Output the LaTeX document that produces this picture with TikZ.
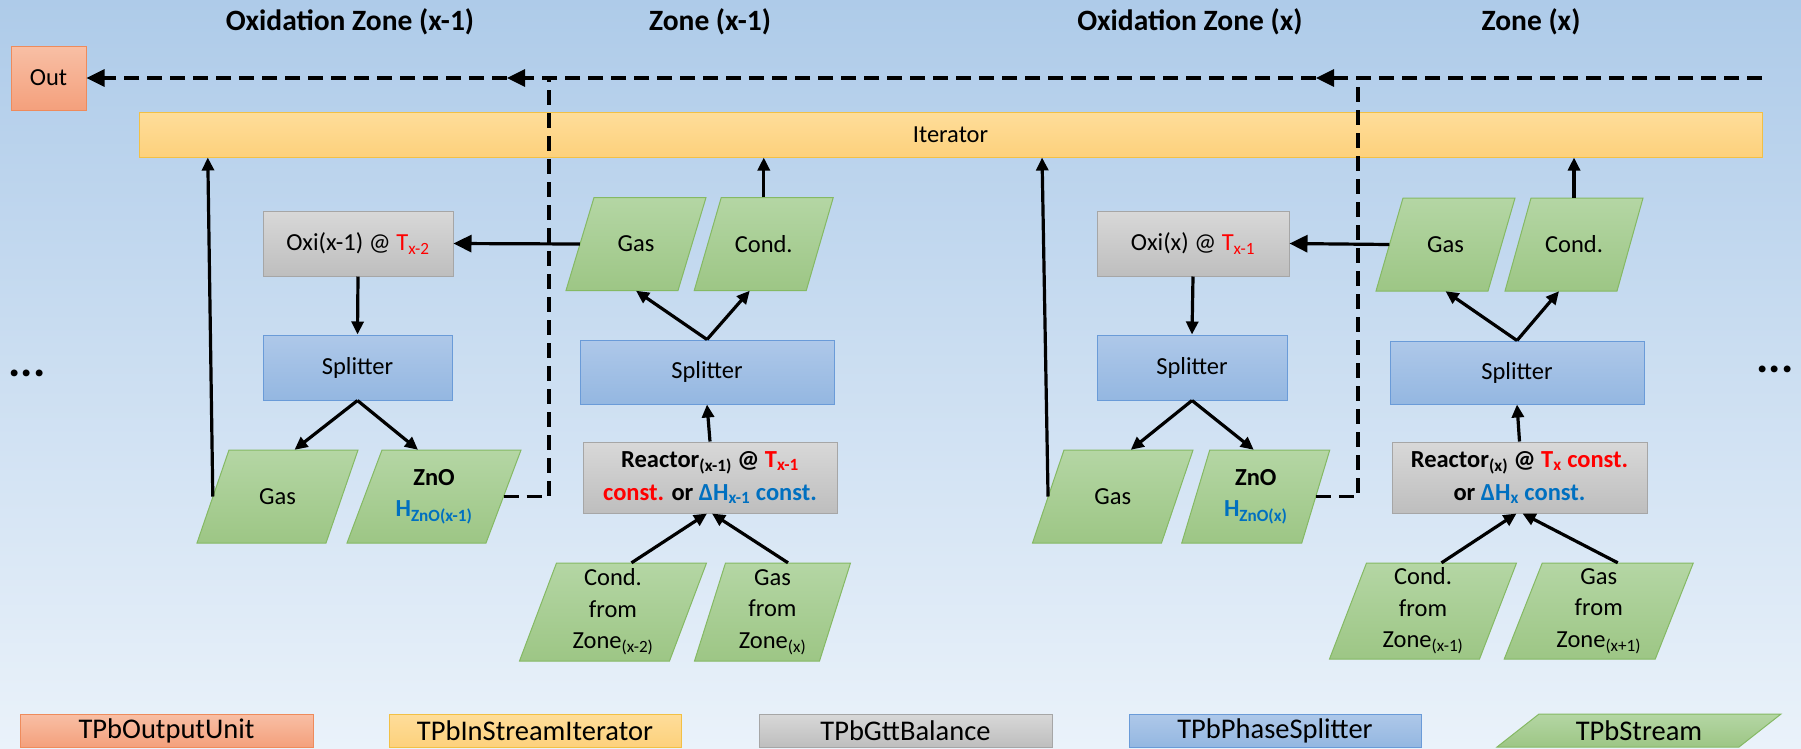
\documentclass[tikz,border=0pt]{standalone}
\usepackage{fontspec}
\setmainfont{Carlito}
\usetikzlibrary{arrows.meta,calc}
\definecolor{bgtop}{HTML}{AECBE9}
\definecolor{bgbot}{HTML}{EAF2FA}
\definecolor{grtop}{HTML}{B4D6A4}
\definecolor{grbot}{HTML}{9DC685}
\definecolor{gredge}{HTML}{85B964}
\definecolor{gytop}{HTML}{D8D8D8}
\definecolor{gybot}{HTML}{BEBEBE}
\definecolor{gyedge}{HTML}{A6A6A6}
\definecolor{bltop}{HTML}{AEC8E9}
\definecolor{blbot}{HTML}{94B7E1}
\definecolor{bledge}{HTML}{6A9BD8}
\definecolor{yetop}{HTML}{FEDD9A}
\definecolor{yebot}{HTML}{FDD17C}
\definecolor{yeedge}{HTML}{F2C045}
\definecolor{ortop}{HTML}{F8BFA5}
\definecolor{orbot}{HTML}{F4A07C}
\definecolor{oredge}{HTML}{EE8B5C}
\definecolor{tred}{HTML}{FF0000}
\definecolor{hblue}{HTML}{0070C0}
\newcommand\fsz[2]{\fontsize{#1pt}{#2pt}\selectfont}
\newcommand\sbs[1]{\textsubscript{#1}}
\tikzset{
  basebox/.style={draw, line width=1pt, inner sep=0pt, align=center, font=\fsz{24.5}{30}},
  graybox/.style={basebox, draw=gyedge, top color=gytop, bottom color=gybot},
  bluebox/.style={basebox, draw=bledge, top color=bltop, bottom color=blbot},
  yellowbox/.style={basebox, draw=yeedge, top color=yetop, bottom color=yebot},
  orangebox/.style={basebox, draw=oredge, top color=ortop, bottom color=orbot},
  streamshape/.style={draw=gredge, line width=1pt, top color=grtop, bottom color=grbot},
  streamtext/.style={inner sep=0pt, align=center, font=\fsz{24.5}{31.5}},
  ztitle/.style={font=\bfseries\fsz{29.5}{35}, inner sep=0pt},
  legtext/.style={font=\fsz{28.5}{34}},
  dots/.style={font=\bfseries\fsz{46}{50}, inner sep=0pt, anchor=base},
  arr/.style={line width=3.2pt, -{Triangle[length=13pt,width=12pt]}},
  bigarr/.style={line width=3.2pt, -{Triangle[length=18pt,width=17pt]}},
  dashline/.style={line width=3.2pt, dash pattern=on 15pt off 8pt},
}
% name, cx, cy, w, h, slant, text
\newcommand\pgram[7]{%
  \path[streamshape] ({#2-#4/2-#6/2},{#3+#5/2}) -- ({#2+#4/2-#6/2},{#3+#5/2}) -- ({#2+#4/2+#6/2},{#3-#5/2}) -- ({#2-#4/2+#6/2},{#3-#5/2}) -- cycle;
  \node[streamtext, minimum width=#4, minimum height=#5] (#1) at (#2,#3) {#7};
}
\begin{document}
\begin{tikzpicture}[x=1pt,y=-1pt]
\useasboundingbox (0,0) rectangle (1801,748);
\path[top color=bgtop, bottom color=bgbot] (0,0) rectangle (1801,748);

% titles
\node[ztitle] (t1) at (350,22) {Oxidation Zone (x-1)};
\node[ztitle] (t2) at (710,22) {Zone (x-1)};
\node[ztitle] (t3) at (1190,22) {Oxidation Zone (x)};
\node[ztitle] (t4) at (1531,22) {Zone (x)};

% out and iterator
\node[orangebox, minimum width=75, minimum height=64] (Out) at (48.5,78) {Out};
\node[yellowbox, minimum width=1623, minimum height=45] (It) at (950.5,134.5) {Iterator};

% dots
\node[dots] (dl) at (27,376) {...};
\node[dots] (dr) at (1775,372) {...};

% ---------- Zone x-1 ----------
\node[graybox, minimum width=190, minimum height=65] (Oxi1) at (358,243.5) {Oxi(x-1) @ \textcolor{tred}{T\sbs{x-2}}};
\node[bluebox, minimum width=189, minimum height=65] (SO1) at (357.5,367.5) {Splitter};
\pgram{G1l}{277.5}{496.5}{129}{93}{32}{Gas}
\pgram{Z1}{434}{496.5}{139}{93}{35}{\textbf{ZnO}\\\textcolor{hblue}{\textbf{H\sbs{ZnO(x-1)}}}}
\pgram{G1u}{636}{244}{112}{93}{28}{Gas}
\pgram{C1u}{763.75}{244}{112}{93}{27}{Cond.}
\node[bluebox, minimum width=254, minimum height=64] (SR1) at (707,372) {Splitter};
\node[graybox, minimum width=254, minimum height=71, font=\bfseries\fsz{24.5}{33}] (R1) at (710,477.5)
  {Reactor\sbs{(x-1)} @ \textcolor{tred}{T\sbs{x-1}}\\\textcolor{tred}{const.} or \textcolor{hblue}{ΔH\sbs{x-1} const.}};
\pgram{CF1}{613}{612}{150}{98}{37}{Cond.\\from\\Zone\sbs{(x-2)}}
\pgram{GF1}{772.5}{612}{125}{98}{31}{Gas\\from\\Zone\sbs{(x)}}

% ---------- Zone x ----------
\node[graybox, minimum width=192, minimum height=65] (Oxi2) at (1193,243.5) {Oxi(x) @ \textcolor{tred}{T\sbs{x-1}}};
\node[bluebox, minimum width=190, minimum height=65] (SO2) at (1192,367.5) {Splitter};
\pgram{G2l}{1112.75}{496.5}{129}{93}{31.5}{Gas}
\pgram{Z2}{1255.75}{496.5}{120}{93}{28}{\textbf{ZnO}\\\textcolor{hblue}{\textbf{H\sbs{ZnO(x)}}}}
\pgram{G2u}{1445.5}{244.5}{112}{93}{27}{Gas}
\pgram{C2u}{1574}{244.5}{112}{93}{26}{Cond.}
\node[bluebox, minimum width=254, minimum height=63] (SR2) at (1517,372.5) {Splitter};
\node[graybox, minimum width=255, minimum height=71, font=\bfseries\fsz{24.5}{33}] (R2) at (1519.5,477.5)
  {Reactor\sbs{(x)} @ \textcolor{tred}{T\sbs{x} const.}\\or \textcolor{hblue}{ΔH\sbs{x} const.}};
\pgram{CF2}{1423}{611}{150}{96}{37}{Cond.\\from\\Zone\sbs{(x-1)}}
\pgram{GF2}{1598.75}{611}{151}{96}{38}{Gas\\from\\Zone\sbs{(x+1)}}

% ---------- connectors zone x-1 ----------
\draw[arr] (Oxi1.south) -- (SO1.north);
\draw[arr] (SO1.south) -- ($(G1l.north)+(17,0)$);
\draw[arr] (SO1.south) -- ($(Z1.north)+(-16,0)$);
\draw[arr] (G1l.west) -- ($(G1l.west |- It.south)+(-5,0)$);
\draw[bigarr] (G1u.west) -- (Oxi1.east);
\draw[arr] (SR1.north) -- (G1u.south);
\draw[arr] (SR1.north) -- ($(C1u.south)+(-14,0)$);
\draw[arr] (C1u.north) -- (C1u.north |- It.south);
\draw[arr] (R1.north) -- (SR1.south);
\draw[arr] ($(CF1.north)+(18.5,0)$) -- ($(R1.south)+(-3,0)$);
\draw[arr] ($(GF1.north)+(15.5,0)$) -- ($(R1.south)+(2,0)$);

% ---------- connectors zone x ----------
\draw[arr] (Oxi2.south) -- (SO2.north);
\draw[arr] (SO2.south) -- ($(G2l.north)+(18,0)$);
\draw[arr] (SO2.south) -- ($(Z2.north)+(-2,0)$);
\draw[arr] (G2l.west) -- ($(G2l.west |- It.south)+(-6,0)$);
\draw[bigarr] (G2u.west) -- (Oxi2.east);
\draw[arr] (SR2.north) -- (G2u.south);
\draw[arr] (SR2.north) -- ($(C2u.south)+(-15,0)$);
\draw[arr] (C2u.north) -- (C2u.north |- It.south);
\draw[arr] (R2.north) -- (SR2.south);
\draw[arr] ($(CF2.north)+(18.5,0)$) -- ($(R2.south)+(-3,0)$);
\draw[arr] ($(GF2.north)+(19,0)$) -- ($(R2.south)+(3,0)$);

% ---------- dashed return line ----------
\coordinate (topR) at (1762,78);
\coordinate (A2) at (1316,78);
\coordinate (J2) at (1358,78);
\coordinate (A1) at (507,78);
\coordinate (J1) at (549,78);
\draw[dashline, -{Triangle[length=18pt,width=17pt]}] (topR) -- (A2);
\draw[dashline, -{Triangle[length=18pt,width=17pt]}] (A2) -- (A1);
\draw[dashline, -{Triangle[length=18pt,width=17pt]}] (A1) -- (Out.east);
\draw[dashline] (Z1.east) -| (J1);
\draw[dashline] (Z2.east) -| (J2);

% ---------- legend ----------
\node[orangebox, legtext, minimum width=293, minimum height=33] (L1) at (166.5,730.5) {TPbOutputUnit};
\node[yellowbox, legtext, minimum width=292, minimum height=33] (L2) at (535,730.5) {TPbInStreamIterator};
\node[graybox, legtext, minimum width=293, minimum height=33] (L3) at (905.5,730.5) {TPbGttBalance};
\node[bluebox, legtext, minimum width=292, minimum height=33] (L4) at (1275,730.5) {TPbPhaseSplitter};
\path[streamshape] ({1639-121-21},747) -- ({1639+121-21},747) -- ({1639+121+21},714) -- ({1639-121+21},714) -- cycle;
\node[legtext, inner sep=0pt] (L5) at (1639,730.5) {TPbStream};
\end{tikzpicture}
\end{document}
